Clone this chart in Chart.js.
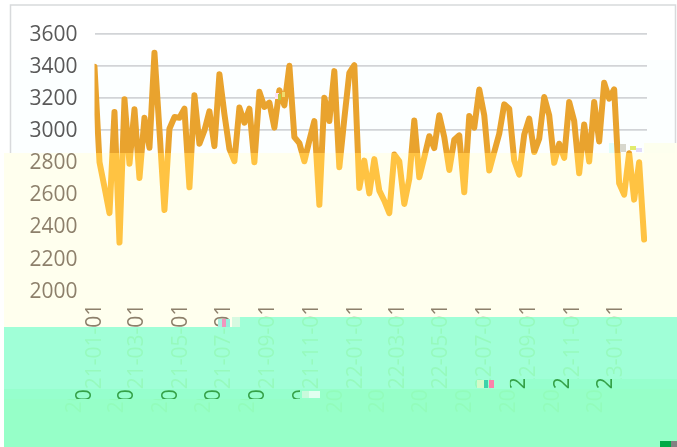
<!DOCTYPE html>
<html>
<head>
<meta charset="utf-8">
<style>
  html, body { margin: 0; padding: 0; background: #fff; }
  canvas { display: block; }
</style>
<script src="https://cdn.jsdelivr.net/npm/chart.js@4/dist/chart.umd.min.js"></script>
</head>
<body>
<canvas id="myChart" width="677" height="447"></canvas>
<script>
const weekDates = [
   '2021-01-01','2021-01-08','2021-01-15','2021-01-22','2021-01-29','2021-02-05','2021-02-12','2021-02-19','2021-02-26',
   '2021-03-05','2021-03-12','2021-03-19','2021-03-26','2021-04-02','2021-04-09','2021-04-16','2021-04-23','2021-04-30',
   '2021-05-07','2021-05-14','2021-05-21','2021-05-28','2021-06-04','2021-06-11','2021-06-18','2021-06-25',
   '2021-07-02','2021-07-09','2021-07-16','2021-07-23','2021-07-30','2021-08-06','2021-08-13','2021-08-20','2021-08-27',
   '2021-09-03','2021-09-10','2021-09-17','2021-09-24','2021-10-01','2021-10-08','2021-10-15','2021-10-22','2021-10-29',
   '2021-11-05','2021-11-12','2021-11-19','2021-11-26','2021-12-03','2021-12-10','2021-12-17','2021-12-24','2021-12-31',
   '2022-01-07','2022-01-14','2022-01-21','2022-01-28','2022-02-04','2022-02-11','2022-02-18','2022-02-25',
   '2022-03-04','2022-03-11','2022-03-18','2022-03-25','2022-04-01','2022-04-08','2022-04-15','2022-04-22','2022-04-29',
   '2022-05-06','2022-05-13','2022-05-20','2022-05-27','2022-06-03','2022-06-10','2022-06-17','2022-06-24',
   '2022-07-01','2022-07-08','2022-07-15','2022-07-22','2022-07-29','2022-08-05','2022-08-12','2022-08-19','2022-08-26',
   '2022-09-02','2022-09-09','2022-09-16','2022-09-23','2022-09-30','2022-10-07','2022-10-14','2022-10-21','2022-10-28',
   '2022-11-04','2022-11-11','2022-11-18','2022-11-25','2022-12-02','2022-12-09','2022-12-16','2022-12-23','2022-12-30',
   '2023-01-06','2023-01-13','2023-01-20','2023-01-27','2023-02-03','2023-02-10'
];

const weekValues = [
   3394, 2800, 2644, 2483, 3112, 2300, 3192, 2790, 3130, 2702, 3077, 2890, 3481, 3000, 2502, 3008,
   3081, 3077, 3133, 2644, 3217, 2915, 2998, 3117, 2900, 3348, 3100, 2883, 2806, 3140, 3046, 3133,
   2800, 3238, 3144, 3171, 3015, 3248, 3154, 3400, 2956, 2919, 2806, 2935, 3056, 2535, 3202, 3056,
   3367, 2769, 3071, 3356, 3404, 2640, 2810, 2606, 2819, 2623, 2560, 2483, 2848, 2806, 2540, 2696,
   3060, 2706, 2831, 2962, 2888, 3092, 2956, 2752, 2940, 2967, 2613, 3088, 3015, 3252, 3092, 2748,
   2863, 2977, 3160, 3133, 2810, 2723, 2971, 3071, 2863, 2946, 3206, 3092, 2796, 2915, 2827, 3175,
   3056, 2731, 3035, 2804, 3175, 2929, 3294, 3196, 3254, 2669, 2598, 2856, 2567, 2800, 2319
];

const tickLabels = [
   '2021-01-01','2021-03-01','2021-05-01','2021-07-01','2021-09-01','2021-11-01','2022-01-01',
   '2022-03-01','2022-05-01','2022-07-01','2022-09-01','2022-11-01','2023-01-01'
];

// rows of the picture that slid sideways: the axis text under them is copied across first
const slides = [
   { box: [4, 389, 316, 10], dx: -10 },
   { box: [510, 379, 167, 10], dx: -10 },
   { box: [320, 389, 357, 58], dx: -20 },
   { box: [4, 399, 316, 48], dx: -20 }
];

// colour bands: each one lifts what is under it, then tints it
const bands = [
   { box: [4, 153, 673, 164], lift: 'rgb(80,60,40)', tint: 'rgb(255,255,238)' },
   { box: [644, 143, 33, 10], lift: 'rgb(80,60,40)', tint: 'rgb(255,255,238)' },
   { box: [4, 317, 236, 10], lift: 'rgb(80,60,40)', tint: 'rgb(255,255,238)' },
   { box: [4, 327, 236, 62], lift: 'rgb(230,247,209)', tint: 'rgb(160,255,215)' },
   { box: [240, 317, 270, 72], lift: 'rgb(230,247,209)', tint: 'rgb(160,255,215)' },
   { box: [510, 317, 167, 62], lift: 'rgb(230,247,209)', tint: 'rgb(160,255,215)' },
   { box: [4, 389, 316, 10], lift: 'rgb(0,110,0)', tint: 'rgb(150,255,205)' },
   { box: [510, 379, 167, 10], lift: 'rgb(0,110,0)', tint: 'rgb(150,255,205)' },
   { box: [320, 389, 357, 58], lift: 'rgb(245,250,230)', tint: 'rgb(150,255,200)' },
   { box: [4, 399, 316, 48], lift: 'rgb(245,250,230)', tint: 'rgb(150,255,200)' }
];

const specks = [
   [660, 441, 11, 6, 'rgb(0,170,70)'],
   [671, 441, 6, 6, 'rgb(130,130,130)'],
   [218, 319, 4, 8, 'rgb(170,240,225)'],
   [222, 319, 4, 8, 'rgb(240,150,190)'],
   [226, 319, 4, 8, 'rgb(150,240,220)'],
   [232, 317, 8, 10, 'rgb(215,250,225)'],
   [302, 391, 7, 7, 'rgb(200,250,220)'],
   [309, 391, 11, 7, 'rgb(225,255,240)'],
   [477, 380, 7, 8, 'rgb(210,250,200)'],
   [484, 380, 4, 8, 'rgb(60,210,170)'],
   [489, 380, 5, 8, 'rgb(250,130,170)'],
   [609, 143, 5, 10, 'rgb(225,255,250)'],
   [620, 144, 6, 8, 'rgb(215,215,205)'],
   [630, 146, 6, 4, 'rgb(225,235,110)'],
   [636, 148, 6, 4, 'rgb(225,220,250)'],
   [275, 93, 4, 6, 'rgb(255,225,245)'],
   [278, 94, 3, 6, 'rgb(190,200,60)'],
   [282, 92, 3, 5, 'rgb(240,220,110)']
];

const scrapPlugin = {
   id: 'scrap',
   beforeDraw(chart) {
      const c = chart.ctx;
      c.save();
      c.fillStyle = '#fff';
      c.fillRect(0, 0, 677, 447);
      c.fillStyle = 'rgb(252,255,255)';
      c.fillRect(11, 60, 664, 93);
      c.strokeStyle = 'rgb(216,218,220)';
      c.lineWidth = 1.5;
      c.beginPath();
      c.moveTo(10.5, 153);
      c.lineTo(10.5, 5);
      c.lineTo(675.5, 5);
      c.lineTo(675.5, 143);
      c.stroke();
      c.restore();
   },
   beforeDatasetsDraw(chart) {
      const c = chart.ctx;
      c.save();
      slides.forEach(s => {
         const [x, y, w, h] = s.box;
         c.drawImage(chart.canvas, x, y, w, h, x + s.dx, y, w, h);
      });
      c.fillStyle = '#fff';
      c.fillRect(0, 317, 4, 130);
      bands.forEach(b => {
         c.globalCompositeOperation = 'screen';
         c.fillStyle = b.lift;
         c.fillRect(...b.box);
         c.globalCompositeOperation = 'multiply';
         c.fillStyle = b.tint;
         c.fillRect(...b.box);
      });
      c.globalCompositeOperation = 'source-over';
      c.restore();
   },
   afterDatasetsDraw(chart) {
      const c = chart.ctx;
      c.save();
      specks.forEach(s => {
         c.fillStyle = s[4];
         c.fillRect(s[0], s[1], s[2], s[3]);
      });
      c.restore();
   }
};

function lineColour(ctx) {
   const g = ctx.chart.ctx.createLinearGradient(0, 0, 0, 447);
   g.addColorStop(0, '#e9a32e');
   g.addColorStop(153 / 447, '#e9a32e');
   g.addColorStop(153 / 447, '#ffc342');
   g.addColorStop(1, '#ffc342');
   return g;
}

new Chart(document.getElementById('myChart').getContext('2d'), {
   type: 'line',
   data: {
      datasets: [
         {
            data: weekDates.map((d, i) => ({ x: Date.parse(d), y: weekValues[i] })),
            borderColor: lineColour,
            borderWidth: 6,
            borderCapStyle: 'round',
            borderJoinStyle: 'round',
            fill: false,
            tension: 0,
            pointRadius: 0
         }
      ]
   },
   options: {
      responsive: false,
      animation: false,
      events: [],
      layout: { padding: { left: 0, right: 30, top: 33.7, bottom: 0 } },
      plugins: { legend: { display: false }, tooltip: { enabled: false } },
      scales: {
         x: {
            type: 'linear',
            min: Date.parse('2021-01-01'),
            max: Date.parse('2023-02-14'),
            afterBuildTicks: scale => { scale.ticks = tickLabels.map(l => ({ value: Date.parse(l) })); },
            afterFit: scale => { scale.height = 156.3; },
            grid: { display: false },
            border: { display: false },
            ticks: {
               autoSkip: false,
               minRotation: 90,
               maxRotation: 90,
               padding: 5,
               labelOffset: 0.5,
               color: '#595959',
               font: { family: 'Open Sans', size: 21 },
               callback: v => new Date(v).toISOString().slice(0, 10)
            }
         },
         y: {
            min: 2000,
            max: 3600,
            afterFit: scale => { scale.width = 94.5; },
            grid: {
               drawTicks: false,
               lineWidth: 1.7,
               color: c => c.tick.value >= 3000 ? 'rgb(210,212,215)' : 'rgba(0,0,0,0)'
            },
            border: { display: false },
            ticks: {
               stepSize: 200,
               padding: 17,
               labelOffset: 1,
               color: '#595959',
               font: { family: 'Open Sans', size: 21 },
               callback: v => String(v)
            }
         }
      }
   },
   plugins: [scrapPlugin]
});
</script>
</body>
</html>
